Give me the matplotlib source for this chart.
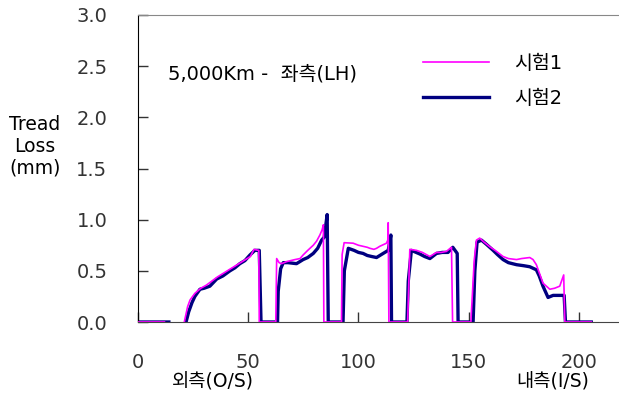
import numpy as np
import matplotlib
matplotlib.use('Agg')
from matplotlib import pyplot as plt

plt.rcParams['font.family'] = ['DejaVu Sans', 'Noto Sans CJK KR']

nan = np.nan
# 시험1 (magenta)
x1 = [0, 12, nan, 21.0, 22.5, 23.6, 25.8, 28.5, 31, 33.5, 36, 39, 42, 45, 48, 51, 52.6, 54.8, 55.0,
      62.5, 62.9, 64.0, 65.1, 67.4, 71.2, 73.5, 74.9, 77, 79.5, 81, 82.5, 83.5, 84.1, 84.3,
      92.3, 92.6, 93.5, 97.6, 100, 102, 104, 105.2, 107, 108.2, 109.7, 112.7, 113.3, 113.5, 113.8,
      122.3, 123.3, 126.3, 129, 132.4, 135.4, 137.5, 139.9, 142.2, 142.7,
      151, 152.5, 153.5, 155, 157, 159.6, 162, 165.6, 168, 171.7, 174, 177.7, 179.2, 180.7,
      183.7, 186.8, 189, 191.3, 193.1, 193.6, 205.6]
y1 = [0, 0, nan, 0, 0.15, 0.215, 0.28, 0.33, 0.36, 0.40, 0.44, 0.48, 0.52, 0.56, 0.60, 0.64, 0.71, 0.70, 0,
      0, 0.62, 0.58, 0.57, 0.59, 0.61, 0.62, 0.655, 0.70, 0.75, 0.79, 0.85, 0.90, 0.95, 0,
      0, 0.66, 0.775, 0.77, 0.75, 0.74, 0.73, 0.72, 0.71, 0.72, 0.74, 0.77, 0.80, 0.97, 0,
      0, 0.71, 0.70, 0.68, 0.64, 0.68, 0.68, 0.69, 0.73, 0,
      0, 0.60, 0.80, 0.82, 0.78, 0.735, 0.70, 0.64, 0.62, 0.61, 0.62, 0.63, 0.61, 0.56,
      0.38, 0.32, 0.33, 0.35, 0.46, 0, 0]

# 시험2 (navy)
x2 = [0, 14, nan, 21.8, 23, 24.5, 25.8, 28.1, 30, 32.6, 35.7, 38.5, 41.7, 44, 46.2, 48.5, 50.8, 53, 55.0, 55.8,
      63.3, 63.6, 64.7, 65.9, 68, 71.9, 74.9, 77, 79.5, 81.5, 83.3, 84.5, 85.8, 86.3,
      93.0, 93.6, 95.4, 98, 100, 102.1, 104, 106, 108.2, 111.2, 113.5, 114.7, 115.0,
      122.0, 122.6, 124, 127.8, 130, 132.4, 135.4, 138, 140.6, 142.8, 144.8, 145.2,
      152.0, 152.8, 153.8, 155.8, 158, 161.1, 163, 165.6, 168, 171.7, 175, 177.7, 180.7, 182,
      183.7, 186, 188.3, 193.3, 193.9, 205.6]
y2 = [0, 0, nan, 0, 0.10, 0.19, 0.25, 0.32, 0.33, 0.35, 0.42, 0.45, 0.50, 0.53, 0.57, 0.60, 0.655, 0.70, 0.70, 0,
      0, 0.30, 0.52, 0.58, 0.58, 0.57, 0.61, 0.63, 0.67, 0.72, 0.80, 0.83, 1.05, 0,
      0, 0.50, 0.72, 0.70, 0.68, 0.67, 0.65, 0.64, 0.63, 0.67, 0.70, 0.85, 0,
      0, 0.40, 0.70, 0.665, 0.64, 0.62, 0.67, 0.68, 0.68, 0.73, 0.67, 0,
      0, 0.50, 0.78, 0.80, 0.76, 0.70, 0.66, 0.61, 0.58, 0.56, 0.55, 0.54, 0.51, 0.45,
      0.35, 0.24, 0.26, 0.26, 0, 0]

labels = ['시험1', '시험2']
xticks = [0, 50, 100, 150, 200]
yticks = [0.0, 0.5, 1.0, 1.5, 2.0, 2.5, 3.0]

fig = plt.figure(figsize=(6.19, 3.94), dpi=100)
ax = fig.add_axes([138 / 619, 72 / 394, 485 / 619, 307 / 394])

l2, = ax.plot(x2, y2, color='#000080', lw=2.4, zorder=2)
l1, = ax.plot(x1, y1, color='#ff00ff', lw=1.2, zorder=3)

ax.set_xlim(0, 220)
ax.set_ylim(0, 3.0)
ax.set_xticks(xticks)
ax.set_yticks(yticks)
ax.set_yticklabels(['%.1f' % v for v in yticks])
ax.tick_params(direction='in', length=7, width=1, labelsize=14, colors='#333333')
ax.tick_params(axis='y', pad=22)
ax.tick_params(axis='x', pad=22)
ax.spines['right'].set_visible(False)
ax.spines['left'].set_color('black')
ax.spines['bottom'].set_color('#444444')
ax.spines['top'].set_color('#888888')

ax.text(13.6, 2.42, '5,000Km -  좌측(LH)', fontsize=14, va='center', ha='left')

fig.legend([l1, l2], labels, loc='upper left', bbox_to_anchor=(423 / 619, 1 - 54 / 394),
           frameon=False, fontsize=14, handlelength=3.4, handletextpad=1.3,
           labelspacing=0.8, borderpad=0, borderaxespad=0)

fig.text(35 / 619, 1 - 146 / 394, 'Tread\nLoss\n(mm)', ha='center', va='center',
         multialignment='center', fontsize=13.5, linespacing=1.2)
fig.text(213 / 619, 1 - 382 / 394, '외측(O/S)', ha='center', va='center', fontsize=13.5)
fig.text(553 / 619, 1 - 382 / 394, '내측(I/S)', ha='center', va='center', fontsize=13.5)

plt.savefig('out.png', dpi=100)
